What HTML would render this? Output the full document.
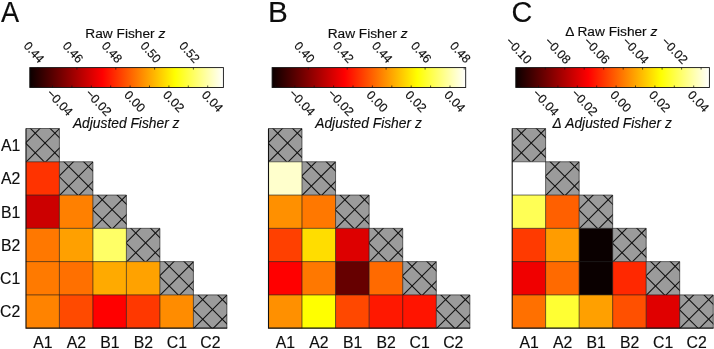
<!DOCTYPE html>
<html><head><meta charset="utf-8"><title>Figure</title>
<style>html,body{margin:0;padding:0;background:#fff;}body{width:714px;height:349px;overflow:hidden;font-family:"Liberation Sans", sans-serif;}svg{display:block;will-change:transform;}text{font-family:"Liberation Sans", sans-serif;fill:#0d0d0d;stroke:#0d0d0d;stroke-width:0.15px;}</style>
</head><body>
<svg width="714" height="349" viewBox="0 0 714 349">
<defs>
<linearGradient id="hot" x1="0" x2="1" y1="0" y2="0"><stop offset="0" stop-color="#0b0000"/><stop offset="0.375" stop-color="#ff0000"/><stop offset="0.75" stop-color="#ffff00"/><stop offset="1" stop-color="#ffffff"/></linearGradient>
<clipPath id="cc"><rect x="0" y="0" width="33.60" height="33.28"/></clipPath>
<g id="hc"><rect x="0" y="0" width="33.60" height="33.28" fill="#9b9b9b"/><g clip-path="url(#cc)" stroke="#111" stroke-width="1.05" fill="none"><line x1="19.00" y1="-5.00" x2="-5.00" y2="19.00"/><line x1="38.70" y1="-5.00" x2="-5.00" y2="38.70"/><line x1="58.20" y1="-5.00" x2="-5.00" y2="58.20"/><line x1="-20.00" y1="-5.00" x2="30.00" y2="45.00"/><line x1="-0.40" y1="-5.00" x2="49.60" y2="45.00"/><line x1="19.30" y1="-5.00" x2="69.30" y2="45.00"/></g></g>
</defs>
<rect width="714" height="349" fill="#ffffff"/>
<g>
<text transform="translate(0.90 21.9) scale(0.915 1)" font-size="29.7" stroke="#111" stroke-width="0.45">A</text>
<rect x="29.80" y="67.60" width="193.60" height="19.90" fill="url(#hot)" stroke="#111" stroke-width="0.9"/>
<path d="M33.10 87.50v-2.0M52.50 87.50v-2.0M71.90 87.50v-2.0M91.30 87.50v-2.0M110.70 87.50v-2.0M130.10 87.50v-2.0M149.50 87.50v-2.0M168.90 87.50v-2.0M188.30 87.50v-2.0M207.70 87.50v-2.0M37.90 67.60v2.0M76.90 67.60v2.0M115.80 67.60v2.0M154.60 67.60v2.0M193.40 67.60v2.0" stroke="#111" stroke-width="0.7" fill="none"/>
<text font-size="12.4" transform="translate(52.30 88.00) rotate(46.5)" x="0" y="8.8">&#8722;0.04</text>
<text font-size="12.4" transform="translate(91.10 88.00) rotate(46.5)" x="0" y="8.8">&#8722;0.02</text>
<text font-size="12.4" transform="translate(129.90 89.40) rotate(46.5)" x="0" y="8.8">0.00</text>
<text font-size="12.4" transform="translate(168.70 89.40) rotate(46.5)" x="0" y="8.8">0.02</text>
<text font-size="12.4" transform="translate(207.50 89.40) rotate(46.5)" x="0" y="8.8">0.04</text>
<text font-size="12.2" text-anchor="end" transform="translate(38.90 63.80) rotate(48.0)" x="0" y="0">0.44</text>
<text font-size="12.2" text-anchor="end" transform="translate(77.90 63.80) rotate(48.0)" x="0" y="0">0.46</text>
<text font-size="12.2" text-anchor="end" transform="translate(116.80 63.80) rotate(48.0)" x="0" y="0">0.48</text>
<text font-size="12.2" text-anchor="end" transform="translate(155.60 63.80) rotate(48.0)" x="0" y="0">0.50</text>
<text font-size="12.2" text-anchor="end" transform="translate(194.40 63.80) rotate(48.0)" x="0" y="0">0.52</text>
<text x="125.30" y="37.7" font-size="13.7" text-anchor="middle">Raw Fisher <tspan font-style="italic">z</tspan></text>
<text x="126.20" y="128" font-size="13.8" font-style="italic" text-anchor="middle">Adjusted Fisher z</text>
<use href="#hc" x="25.90" y="128.50"/>
<rect x="25.90" y="161.78" width="33.80" height="33.58" fill="#ff3300"/>
<use href="#hc" x="59.40" y="161.78"/>
<rect x="25.90" y="195.06" width="33.80" height="33.58" fill="#cc0000"/>
<rect x="59.40" y="195.06" width="33.80" height="33.58" fill="#ff8000"/>
<use href="#hc" x="92.90" y="195.06"/>
<rect x="25.90" y="228.34" width="33.80" height="33.58" fill="#ff7800"/>
<rect x="59.40" y="228.34" width="33.80" height="33.58" fill="#ffa000"/>
<rect x="92.90" y="228.34" width="33.80" height="33.58" fill="#ffff66"/>
<use href="#hc" x="126.40" y="228.34"/>
<rect x="25.90" y="261.62" width="33.80" height="33.58" fill="#ff7a00"/>
<rect x="59.40" y="261.62" width="33.80" height="33.58" fill="#ff7000"/>
<rect x="92.90" y="261.62" width="33.80" height="33.58" fill="#ffaa00"/>
<rect x="126.40" y="261.62" width="33.80" height="33.58" fill="#ffa200"/>
<use href="#hc" x="159.90" y="261.62"/>
<rect x="25.90" y="294.90" width="33.80" height="33.58" fill="#ff8300"/>
<rect x="59.40" y="294.90" width="33.80" height="33.58" fill="#ff4a00"/>
<rect x="92.90" y="294.90" width="33.80" height="33.58" fill="#ff0000"/>
<rect x="126.40" y="294.90" width="33.80" height="33.58" fill="#ff3800"/>
<rect x="159.90" y="294.90" width="33.80" height="33.58" fill="#ff8c00"/>
<use href="#hc" x="193.40" y="294.90"/>
<path d="M25.90 128.50H59.40M25.90 161.78H92.90M25.90 195.06H126.40M25.90 228.34H159.90M25.90 261.62H193.40M25.90 294.90H226.90M59.40 128.50V328.18M92.90 161.78V328.18M126.40 195.06V328.18M159.90 228.34V328.18M193.40 261.62V328.18M226.90 294.90V328.18" fill="none" stroke="#1c1c1c" stroke-width="0.65"/>
<path d="M26.00 128.50V328.08H227.20" fill="none" stroke="#111" stroke-width="1.1"/>
<text x="42.85" y="347.6" font-size="15.8" text-anchor="middle">A1</text>
<text x="76.35" y="347.6" font-size="15.8" text-anchor="middle">A2</text>
<text x="109.85" y="347.6" font-size="15.8" text-anchor="middle">B1</text>
<text x="143.35" y="347.6" font-size="15.8" text-anchor="middle">B2</text>
<text x="176.85" y="347.6" font-size="15.8" text-anchor="middle">C1</text>
<text x="210.35" y="347.6" font-size="15.8" text-anchor="middle">C2</text>
<text x="20.3" y="150.94" font-size="15.8" text-anchor="end">A1</text>
<text x="20.3" y="184.22" font-size="15.8" text-anchor="end">A2</text>
<text x="20.3" y="217.50" font-size="15.8" text-anchor="end">B1</text>
<text x="20.3" y="250.78" font-size="15.8" text-anchor="end">B2</text>
<text x="20.3" y="284.06" font-size="15.8" text-anchor="end">C1</text>
<text x="20.3" y="317.34" font-size="15.8" text-anchor="end">C2</text>
</g>
<g>
<text transform="translate(267.90 21.9) scale(1.000 1)" font-size="29.7" stroke="#111" stroke-width="0.45">B</text>
<rect x="272.10" y="67.60" width="193.60" height="19.90" fill="url(#hot)" stroke="#111" stroke-width="0.9"/>
<path d="M275.40 87.50v-2.0M294.80 87.50v-2.0M314.20 87.50v-2.0M333.60 87.50v-2.0M353.00 87.50v-2.0M372.40 87.50v-2.0M391.80 87.50v-2.0M411.20 87.50v-2.0M430.60 87.50v-2.0M450.00 87.50v-2.0M308.30 67.60v2.0M347.20 67.60v2.0M386.10 67.60v2.0M425.10 67.60v2.0M464.20 67.60v2.0" stroke="#111" stroke-width="0.7" fill="none"/>
<text font-size="12.4" transform="translate(294.60 88.00) rotate(46.5)" x="0" y="8.8">&#8722;0.04</text>
<text font-size="12.4" transform="translate(333.40 88.00) rotate(46.5)" x="0" y="8.8">&#8722;0.02</text>
<text font-size="12.4" transform="translate(372.20 89.40) rotate(46.5)" x="0" y="8.8">0.00</text>
<text font-size="12.4" transform="translate(411.00 89.40) rotate(46.5)" x="0" y="8.8">0.02</text>
<text font-size="12.4" transform="translate(449.80 89.40) rotate(46.5)" x="0" y="8.8">0.04</text>
<text font-size="12.2" text-anchor="end" transform="translate(309.30 63.80) rotate(48.0)" x="0" y="0">0.40</text>
<text font-size="12.2" text-anchor="end" transform="translate(348.20 63.80) rotate(48.0)" x="0" y="0">0.42</text>
<text font-size="12.2" text-anchor="end" transform="translate(387.10 63.80) rotate(48.0)" x="0" y="0">0.44</text>
<text font-size="12.2" text-anchor="end" transform="translate(426.10 63.80) rotate(48.0)" x="0" y="0">0.46</text>
<text font-size="12.2" text-anchor="end" transform="translate(465.20 63.80) rotate(48.0)" x="0" y="0">0.48</text>
<text x="367.60" y="37.7" font-size="13.7" text-anchor="middle">Raw Fisher <tspan font-style="italic">z</tspan></text>
<text x="368.50" y="128" font-size="13.8" font-style="italic" text-anchor="middle">Adjusted Fisher z</text>
<use href="#hc" x="268.40" y="128.50"/>
<rect x="268.40" y="161.78" width="33.88" height="33.58" fill="#ffffcc"/>
<use href="#hc" x="301.98" y="161.78"/>
<rect x="268.40" y="195.06" width="33.88" height="33.58" fill="#ff9000"/>
<rect x="301.98" y="195.06" width="33.88" height="33.58" fill="#ff7800"/>
<use href="#hc" x="335.56" y="195.06"/>
<rect x="268.40" y="228.34" width="33.88" height="33.58" fill="#ff4000"/>
<rect x="301.98" y="228.34" width="33.88" height="33.58" fill="#ffdd00"/>
<rect x="335.56" y="228.34" width="33.88" height="33.58" fill="#dd0000"/>
<use href="#hc" x="369.14" y="228.34"/>
<rect x="268.40" y="261.62" width="33.88" height="33.58" fill="#ff0000"/>
<rect x="301.98" y="261.62" width="33.88" height="33.58" fill="#ff7800"/>
<rect x="335.56" y="261.62" width="33.88" height="33.58" fill="#660000"/>
<rect x="369.14" y="261.62" width="33.88" height="33.58" fill="#ff6a00"/>
<use href="#hc" x="402.72" y="261.62"/>
<rect x="268.40" y="294.90" width="33.88" height="33.58" fill="#ff9000"/>
<rect x="301.98" y="294.90" width="33.88" height="33.58" fill="#ffff00"/>
<rect x="335.56" y="294.90" width="33.88" height="33.58" fill="#ff4800"/>
<rect x="369.14" y="294.90" width="33.88" height="33.58" fill="#ff1800"/>
<rect x="402.72" y="294.90" width="33.88" height="33.58" fill="#ff1400"/>
<use href="#hc" x="436.30" y="294.90"/>
<path d="M268.40 128.50H301.98M268.40 161.78H335.56M268.40 195.06H369.14M268.40 228.34H402.72M268.40 261.62H436.30M268.40 294.90H469.88M301.98 128.50V328.18M335.56 161.78V328.18M369.14 195.06V328.18M402.72 228.34V328.18M436.30 261.62V328.18M469.88 294.90V328.18" fill="none" stroke="#1c1c1c" stroke-width="0.65"/>
<path d="M268.50 128.50V328.08H470.18" fill="none" stroke="#111" stroke-width="1.1"/>
<text x="285.39" y="347.6" font-size="15.8" text-anchor="middle">A1</text>
<text x="318.97" y="347.6" font-size="15.8" text-anchor="middle">A2</text>
<text x="352.55" y="347.6" font-size="15.8" text-anchor="middle">B1</text>
<text x="386.13" y="347.6" font-size="15.8" text-anchor="middle">B2</text>
<text x="419.71" y="347.6" font-size="15.8" text-anchor="middle">C1</text>
<text x="453.29" y="347.6" font-size="15.8" text-anchor="middle">C2</text>
</g>
<g>
<text transform="translate(511.50 21.9) scale(0.970 1)" font-size="29.7" stroke="#111" stroke-width="0.45">C</text>
<rect x="515.80" y="67.60" width="193.60" height="19.90" fill="url(#hot)" stroke="#111" stroke-width="0.9"/>
<path d="M519.10 87.50v-2.0M538.50 87.50v-2.0M557.90 87.50v-2.0M577.30 87.50v-2.0M596.70 87.50v-2.0M616.10 87.50v-2.0M635.50 87.50v-2.0M654.90 87.50v-2.0M674.30 87.50v-2.0M693.70 87.50v-2.0M525.80 67.60v2.0M564.80 67.60v2.0M603.70 67.60v2.0M642.60 67.60v2.0M681.60 67.60v2.0M545.30 67.60v2.0M584.20 67.60v2.0M623.20 67.60v2.0M662.10 67.60v2.0M701.10 67.60v2.0" stroke="#111" stroke-width="0.7" fill="none"/>
<text font-size="12.4" transform="translate(538.30 88.00) rotate(46.5)" x="0" y="8.8">&#8722;0.04</text>
<text font-size="12.4" transform="translate(577.10 88.00) rotate(46.5)" x="0" y="8.8">&#8722;0.02</text>
<text font-size="12.4" transform="translate(615.90 89.40) rotate(46.5)" x="0" y="8.8">0.00</text>
<text font-size="12.4" transform="translate(654.70 89.40) rotate(46.5)" x="0" y="8.8">0.02</text>
<text font-size="12.4" transform="translate(693.50 89.40) rotate(46.5)" x="0" y="8.8">0.04</text>
<text font-size="12.4" text-anchor="end" transform="translate(526.60 64.80) rotate(46.5)" x="0" y="0">&#8722;0.10</text>
<text font-size="12.4" text-anchor="end" transform="translate(565.60 64.80) rotate(46.5)" x="0" y="0">&#8722;0.08</text>
<text font-size="12.4" text-anchor="end" transform="translate(604.50 64.80) rotate(46.5)" x="0" y="0">&#8722;0.06</text>
<text font-size="12.4" text-anchor="end" transform="translate(643.40 64.80) rotate(46.5)" x="0" y="0">&#8722;0.04</text>
<text font-size="12.4" text-anchor="end" transform="translate(682.40 64.80) rotate(46.5)" x="0" y="0">&#8722;0.02</text>
<text x="611.30" y="35.6" font-size="13.7" text-anchor="middle">&#916; Raw Fisher <tspan font-style="italic">z</tspan></text>
<text x="612.20" y="128" font-size="13.8" font-style="italic" text-anchor="middle">&#916; Adjusted Fisher z</text>
<use href="#hc" x="512.10" y="128.50"/>
<rect x="512.10" y="161.78" width="33.82" height="33.58" fill="#ffffff"/>
<use href="#hc" x="545.62" y="161.78"/>
<rect x="512.10" y="195.06" width="33.82" height="33.58" fill="#ffff55"/>
<rect x="545.62" y="195.06" width="33.82" height="33.58" fill="#ff6000"/>
<use href="#hc" x="579.14" y="195.06"/>
<rect x="512.10" y="228.34" width="33.82" height="33.58" fill="#ff3a00"/>
<rect x="545.62" y="228.34" width="33.82" height="33.58" fill="#ff9c00"/>
<rect x="579.14" y="228.34" width="33.82" height="33.58" fill="#0a0000"/>
<use href="#hc" x="612.66" y="228.34"/>
<rect x="512.10" y="261.62" width="33.82" height="33.58" fill="#f00000"/>
<rect x="545.62" y="261.62" width="33.82" height="33.58" fill="#ff6a00"/>
<rect x="579.14" y="261.62" width="33.82" height="33.58" fill="#0a0000"/>
<rect x="612.66" y="261.62" width="33.82" height="33.58" fill="#ff2800"/>
<use href="#hc" x="646.18" y="261.62"/>
<rect x="512.10" y="294.90" width="33.82" height="33.58" fill="#ff7000"/>
<rect x="545.62" y="294.90" width="33.82" height="33.58" fill="#ffff33"/>
<rect x="579.14" y="294.90" width="33.82" height="33.58" fill="#ffa000"/>
<rect x="612.66" y="294.90" width="33.82" height="33.58" fill="#ff5000"/>
<rect x="646.18" y="294.90" width="33.82" height="33.58" fill="#e00000"/>
<use href="#hc" x="679.70" y="294.90"/>
<path d="M512.10 128.50H545.62M512.10 161.78H579.14M512.10 195.06H612.66M512.10 228.34H646.18M512.10 261.62H679.70M512.10 294.90H713.22M545.62 128.50V328.18M579.14 161.78V328.18M612.66 195.06V328.18M646.18 228.34V328.18M679.70 261.62V328.18M713.22 294.90V328.18" fill="none" stroke="#1c1c1c" stroke-width="0.65"/>
<path d="M512.20 128.50V328.08H713.52" fill="none" stroke="#111" stroke-width="1.1"/>
<text x="529.06" y="347.6" font-size="15.8" text-anchor="middle">A1</text>
<text x="562.58" y="347.6" font-size="15.8" text-anchor="middle">A2</text>
<text x="596.10" y="347.6" font-size="15.8" text-anchor="middle">B1</text>
<text x="629.62" y="347.6" font-size="15.8" text-anchor="middle">B2</text>
<text x="663.14" y="347.6" font-size="15.8" text-anchor="middle">C1</text>
<text x="696.66" y="347.6" font-size="15.8" text-anchor="middle">C2</text>
</g>
</svg>
</body></html>
